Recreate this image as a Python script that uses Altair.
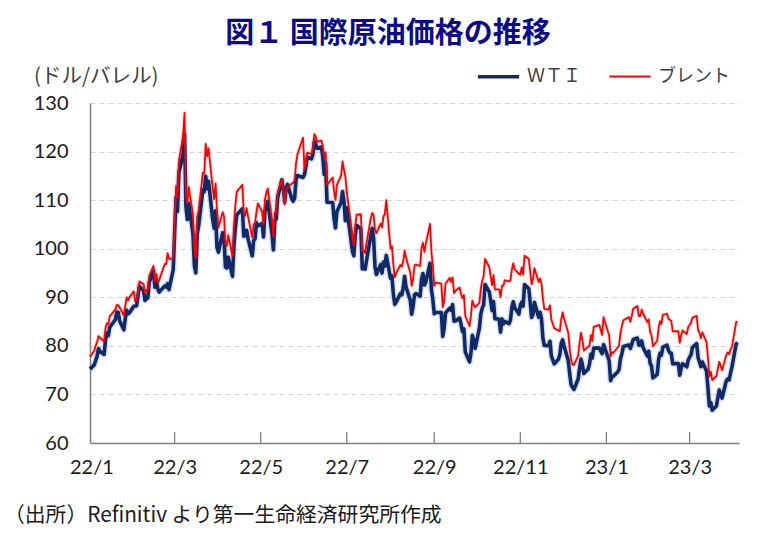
import altair as alt
import pandas as pd


def month(prefix, days):
    return [f"{prefix}-{d:02d}" for d in days]


DATES = (
    month("2021-12", [31])
    + month("2022-01", [3, 4, 5, 6, 7, 10, 11, 12, 13, 14, 18, 19, 20, 21, 24, 25, 26, 27, 28, 31])
    + month("2022-02", [1, 2, 3, 4, 7, 8, 9, 10, 11, 14, 15, 16, 17, 18, 22, 23, 24, 25, 28])
    + month("2022-03", [1, 2, 3, 4, 7, 8, 9, 10, 11, 14, 15, 16, 17, 18, 21, 22, 23, 24, 25, 28, 29, 30, 31])
    + month("2022-04", [1, 4, 5, 6, 7, 8, 11, 12, 13, 14, 18, 19, 20, 21, 22, 25, 26, 27, 28, 29])
    + month("2022-05", [2, 3, 4, 5, 6, 9, 10, 11, 12, 13, 16, 17, 18, 19, 20, 23, 24, 25, 26, 27, 31])
    + month("2022-06", [1, 2, 3, 6, 7, 8, 9, 10, 13, 14, 15, 16, 17, 21, 22, 23, 24, 27, 28, 29, 30])
    + month("2022-07", [1, 5, 6, 7, 8, 11, 12, 13, 14, 15, 18, 19, 20, 21, 22, 25, 26, 27, 28, 29])
    + month("2022-08", [1, 2, 3, 4, 5, 8, 9, 10, 11, 12, 15, 16, 17, 18, 19, 22, 23, 24, 25, 26, 29, 30, 31])
    + month("2022-09", [1, 2, 6, 7, 8, 9, 12, 13, 14, 15, 16, 19, 20, 21, 22, 23, 26, 27, 28, 29, 30])
    + month("2022-10", [3, 4, 5, 6, 7, 10, 11, 12, 13, 14, 17, 18, 19, 20, 21, 24, 25, 26, 27, 28, 31])
    + month("2022-11", [1, 2, 3, 4, 7, 8, 9, 10, 11, 14, 15, 16, 17, 18, 21, 22, 23, 25, 28, 29, 30])
    + month("2022-12", [1, 2, 5, 6, 7, 8, 9, 12, 13, 14, 15, 16, 19, 20, 21, 22, 23, 27, 28, 29, 30])
    + month("2023-01", [3, 4, 5, 6, 9, 10, 11, 12, 13, 17, 18, 19, 20, 23, 24, 25, 26, 27, 30, 31])
    + month("2023-02", [1, 2, 3, 6, 7, 8, 9, 10, 13, 14, 15, 16, 17, 21, 22, 23, 24, 27, 28])
    + month("2023-03", [1, 2, 3, 6, 7, 8, 9, 10, 13, 14, 15, 16, 17, 20, 21, 22, 23, 24, 27, 28, 29, 30, 31])
    + month("2023-04", [3, 4])
)

WTI = [
    75.21,
    76.08, 76.99, 77.85, 79.46, 78.90, 78.23, 81.22, 82.64, 82.12, 83.82, 85.43, 86.96, 86.90, 85.14, 83.31, 85.60, 87.35, 86.61, 86.82, 88.15,
    88.20, 88.26, 90.27, 92.31, 91.32, 89.36, 89.66, 89.88, 93.10, 95.46, 92.07, 93.66, 91.76, 91.07, 92.35, 92.10, 92.81, 91.59, 95.72,
    103.41, 110.60, 107.67, 115.68, 119.40, 123.70, 108.70, 106.02, 109.33, 103.01, 96.44, 95.04, 102.98, 104.70, 112.12, 111.76, 114.93, 112.34, 113.90, 105.96, 104.24, 107.82, 100.28,
    99.27, 103.28, 101.96, 96.23, 96.03, 98.26, 94.29, 100.60, 104.25, 106.95, 108.21, 102.56, 102.75, 103.79, 102.07, 98.54, 101.70, 102.02, 105.36, 104.69,
    105.17, 102.41, 107.81, 108.26, 109.77, 103.09, 99.76, 105.71, 106.13, 110.49, 114.20, 112.40, 109.59, 112.21, 113.23, 110.29, 109.77, 110.33, 114.09, 115.07, 114.67,
    115.26, 116.87, 118.87, 118.50, 119.41, 122.11, 121.51, 120.67, 120.93, 118.93, 115.31, 117.59, 109.56, 109.52, 106.19, 104.27, 107.62, 109.57, 111.76, 109.78, 105.76,
    108.43, 99.50, 98.53, 102.73, 104.79, 104.09, 95.84, 96.30, 95.78, 97.59, 102.60, 104.22, 102.26, 96.35, 94.70, 96.70, 94.98, 97.26, 96.42, 98.62,
    93.89, 94.42, 90.66, 88.54, 89.01, 90.76, 90.50, 91.93, 94.34, 92.09, 89.41, 86.53, 88.11, 90.50, 90.77, 90.23, 93.74, 94.89, 92.52, 93.06, 97.01, 91.64, 89.55,
    86.61, 86.87, 86.88, 81.94, 83.54, 86.79, 87.78, 87.31, 88.48, 85.10, 85.11, 85.73, 84.45, 82.94, 83.49, 78.74, 76.71, 78.50, 82.15, 81.23, 79.49,
    83.63, 86.52, 87.76, 88.45, 92.64, 91.13, 89.35, 87.27, 89.11, 85.61, 85.46, 82.82, 85.55, 84.51, 85.05, 84.58, 85.32, 87.91, 89.08, 87.90, 86.53,
    88.37, 89.00, 88.17, 92.61, 91.79, 88.91, 85.83, 86.47, 88.96, 85.87, 86.92, 85.59, 81.64, 80.08, 80.04, 80.95, 77.94, 76.28, 77.24, 78.20, 80.55,
    81.22, 79.98, 76.93, 74.25, 72.01, 71.46, 71.02, 73.17, 75.39, 77.28, 76.11, 74.29, 75.19, 76.23, 78.29, 77.49, 79.56, 79.53, 78.96, 78.40, 80.26,
    76.93, 72.84, 73.67, 73.77, 74.63, 75.12, 77.41, 78.39, 79.86, 80.18, 79.48, 80.33, 81.31, 81.62, 80.13, 80.15, 81.01, 79.68, 77.90, 78.87,
    76.41, 75.88, 73.39, 74.11, 77.14, 78.47, 78.06, 79.72, 80.14, 79.06, 78.59, 78.49, 76.34, 76.36, 73.95, 75.39, 76.32, 75.68, 77.05,
    77.69, 78.16, 79.68, 80.46, 77.58, 76.66, 75.72, 76.68, 74.80, 71.33, 67.61, 68.35, 66.74, 67.64, 69.33, 70.90, 69.96, 69.26, 72.81, 73.20, 72.97, 74.37, 75.67,
    80.42, 80.71,
]

BRENT = [
    77.78,
    78.98, 80.00, 80.80, 81.99, 81.75, 80.87, 83.72, 84.67, 84.47, 86.06, 87.51, 88.44, 88.38, 87.89, 86.27, 88.20, 89.96, 89.34, 90.03, 91.21,
    89.16, 89.47, 91.11, 93.27, 92.69, 90.78, 91.55, 91.41, 94.44, 96.48, 93.28, 94.81, 92.97, 93.54, 96.84, 96.84, 99.08, 97.93, 97.97,
    104.97, 112.93, 110.46, 118.11, 123.21, 127.98, 111.14, 109.33, 112.67, 106.90, 99.91, 98.02, 106.64, 107.93, 115.62, 115.48, 121.60, 119.03, 120.65, 112.48, 110.23, 113.45, 107.91,
    104.39, 107.53, 106.64, 101.07, 100.58, 102.78, 98.48, 104.64, 108.78, 111.70, 113.16, 107.25, 106.80, 108.33, 106.65, 102.32, 104.99, 105.32, 107.59, 109.34,
    107.58, 104.97, 110.14, 111.55, 112.39, 105.94, 102.46, 107.51, 107.45, 111.55, 114.24, 111.93, 109.11, 112.04, 112.55, 113.42, 113.56, 114.03, 117.40, 119.43, 122.84,
    116.29, 117.61, 119.72, 119.51, 120.57, 123.58, 123.07, 122.01, 122.27, 121.17, 118.51, 119.81, 113.12, 114.65, 111.74, 110.05, 113.12, 115.09, 117.98, 116.26, 114.81,
    111.63, 102.77, 100.69, 104.65, 107.02, 107.10, 99.49, 99.57, 99.10, 101.16, 106.27, 107.35, 106.92, 103.86, 103.20, 105.15, 104.40, 106.62, 107.14, 110.01,
    100.03, 100.54, 96.78, 94.12, 94.92, 96.65, 96.31, 97.40, 99.60, 98.15, 95.10, 92.34, 93.65, 96.59, 96.72, 96.48, 100.22, 101.22, 99.34, 100.99, 105.09, 99.31, 96.49,
    92.36, 93.02, 92.83, 88.00, 89.15, 92.84, 94.00, 93.17, 94.10, 90.84, 91.35, 92.00, 90.62, 89.83, 90.46, 86.15, 84.06, 86.27, 89.32, 88.49, 87.96,
    88.86, 91.80, 93.37, 94.42, 97.92, 96.19, 94.29, 92.45, 94.57, 91.63, 91.62, 90.03, 92.41, 92.38, 93.50, 93.26, 93.52, 95.69, 96.96, 95.77, 94.83,
    94.65, 96.16, 94.67, 98.57, 97.92, 95.36, 92.65, 93.67, 95.99, 93.14, 93.86, 92.86, 89.78, 87.62, 87.45, 88.36, 85.41, 83.63, 83.19, 83.03, 85.43,
    86.88, 85.57, 82.68, 79.35, 77.17, 76.15, 76.10, 77.99, 80.68, 82.70, 81.21, 79.04, 79.80, 79.99, 82.20, 80.98, 83.92, 84.33, 83.26, 82.26, 85.91,
    82.10, 77.84, 78.69, 78.57, 79.65, 80.10, 82.67, 84.03, 85.28, 85.92, 84.98, 86.16, 87.63, 88.19, 86.13, 86.12, 87.47, 86.66, 84.90, 85.46,
    82.84, 82.17, 79.94, 80.99, 83.69, 85.09, 84.50, 86.39, 86.61, 85.58, 85.38, 85.14, 83.00, 83.05, 80.60, 82.21, 83.16, 82.45, 83.89,
    84.31, 84.75, 85.83, 86.18, 83.29, 82.66, 81.59, 82.78, 80.77, 77.45, 73.69, 74.70, 72.97, 73.79, 75.32, 76.69, 75.91, 74.99, 78.12, 78.65, 78.28, 79.27, 79.77,
    84.93, 84.94,
]

assert len(DATES) == len(WTI) == len(BRENT), (len(DATES), len(WTI), len(BRENT))

SERIES = ["ＷＴＩ", "ブレント"]
COLORS = ["#0F2A66", "#FF0000"]
WIDTHS = [3.6, 1.8]

Y_TICKS = [60, 70, 80, 90, 100, 110, 120, 130]
LABEL_DATES = ["2022-01-01", "2022-03-01", "2022-05-01", "2022-07-01", "2022-09-01",
               "2022-11-01", "2023-01-01", "2023-03-01"]
TICK_DATES = LABEL_DATES[1:]
X_DOMAIN = ["2021-12-31", "2023-04-05"]

TITLE = "図１ 国際原油価格の推移"
UNIT = "(ドル/バレル)"
SOURCE = "（出所）Refinitiv より第一生命経済研究所作成"


def dt(s):
    y, m, d = (int(p) for p in s.split("-"))
    return alt.DateTime(year=y, month=m, date=d, utc=True)


df = pd.DataFrame({
    "date": DATES * 2,
    "value": WTI + BRENT,
    "series": [SERIES[0]] * len(DATES) + [SERIES[1]] * len(DATES),
    "order": [0] * len(DATES) + [1] * len(DATES),
})

W, H = 649, 340
LABEL_FONT = "Lato"
JP_FONT = "Noto Sans CJK JP"

x_axis = alt.Axis(
    values=[dt(s) for s in LABEL_DATES],
    labelExpr="utcFormat(datum.value, '%y/%-m')",
    title=None, grid=False, tickSize=0, labelPadding=14,
    labelFont=LABEL_FONT, labelFontSize=20, labelColor="#1a1a1a",
    labelAlign="center", labelOverlap=False, labelFlush=False,
    domainColor="#808080", domainWidth=1.5,
)
X = alt.X("date:T", scale=alt.Scale(domain=[dt(s) for s in X_DOMAIN]), axis=x_axis)

y_axis = alt.Axis(
    values=Y_TICKS, title=None, tickSize=0, labelPadding=22,
    labelFont=LABEL_FONT, labelFontSize=20, labelColor="#1a1a1a",
    domainColor="#808080", domainWidth=1.5,
    grid=True, gridColor="#d4d4d4", gridDash=[5, 4], gridWidth=1,
)
Y = alt.Y("value:Q", scale=alt.Scale(domain=[60, 130], nice=False, zero=False), axis=y_axis)

legend = alt.Legend(
    orient="none", legendX=386, legendY=-49, direction="horizontal", title=None,
    symbolType="stroke", symbolSize=1700, labelFont=JP_FONT, labelFontSize=18,
    labelColor="#404040", labelOffset=6, columnPadding=24, labelLimit=200,
)

base = alt.Chart(df)

halo_wti = base.transform_filter(alt.datum.series == SERIES[0]).mark_line(
    color="#8fa6d6", strokeWidth=6.5, opacity=0.35, strokeJoin="round"
).encode(x=X, y=Y)

halo_brent = base.transform_filter(alt.datum.series == SERIES[1]).mark_line(
    color="#ff9a9a", strokeWidth=3.6, opacity=0.35, strokeJoin="round"
).encode(x=X, y=Y)

lines = base.mark_line(strokeJoin="round").encode(
    x=X, y=Y,
    color=alt.Color("series:N", scale=alt.Scale(domain=SERIES, range=COLORS), legend=legend),
    strokeWidth=alt.StrokeWidth("series:N", scale=alt.Scale(domain=SERIES, range=WIDTHS), legend=legend),
    order=alt.Order("order:Q"),
)

ticks = alt.Chart(pd.DataFrame({"date": TICK_DATES})).mark_rule(
    color="#808080", strokeWidth=1.3
).encode(x=X, y=alt.value(H - 11), y2=alt.value(H))

title_txt = alt.Chart(pd.DataFrame({"t": [TITLE]})).mark_text(
    font=JP_FONT, fontSize=29, fontWeight="bold", color="#0B0B8A",
    align="center", baseline="middle"
).encode(text="t:N", x=alt.value(298), y=alt.value(-69))

unit_txt = alt.Chart(pd.DataFrame({"t": [UNIT]})).mark_text(
    font=JP_FONT, fontSize=20.5, color="#404040", align="left", baseline="middle"
).encode(text="t:N", x=alt.value(-56), y=alt.value(-26))

source_txt = alt.Chart(pd.DataFrame({"t": [SOURCE]})).mark_text(
    font=JP_FONT, fontSize=20.8, color="#1a1a1a", align="left", baseline="middle"
).encode(text="t:N", x=alt.value(-86), y=alt.value(413))

chart = alt.layer(
    halo_brent, halo_wti, lines, ticks, title_txt, unit_txt, source_txt
).properties(
    width=W, height=H,
    padding={"left": 90, "top": 103, "right": 34, "bottom": 100},
    autosize=alt.AutoSizeParams(type="none"),
    background="white",
).configure_view(stroke=None)

chart.save("out.html", embed_options={"renderer": "svg", "actions": False})
